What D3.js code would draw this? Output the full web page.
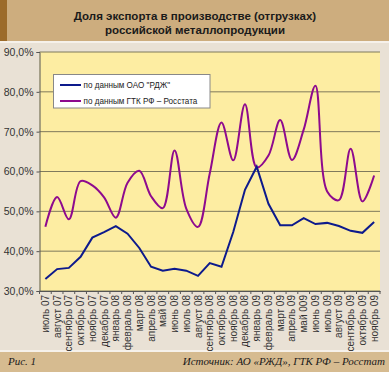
<!DOCTYPE html>
<html>
<head>
<meta charset="utf-8">
<script src="https://cdn.jsdelivr.net/npm/d3@7"></script>
<style>
  body { margin: 0; padding: 0; background: #e9e1d5; }
  svg { display: block; }
</style>
</head>
<body>
<div id="chart"></div>
<script>
// months on the x axis (the "май 009" typo is in the original)
var months = ["июль 07", "август 07", "сентябрь 07", "октябрь 07", "ноябрь 07", "декабрь 07",
  "январь 08", "февраль 08", "март 08", "апрель 08", "май 08", "июнь 08", "июль 08", "август 08",
  "сентябрь 08", "октябрь 08", "ноябрь 08", "декабрь 08", "январь 09", "февраль 09", "март 09",
  "апрель 09", "май 009", "июнь 09", "июль 09", "август 09", "сентябрь 09", "октябрь 09", "ноябрь 09"];

// share of export, %
var rzd = [33.0, 35.5, 35.8, 38.6, 43.4, 44.8, 46.3, 44.4, 40.8, 36.1, 35.1, 35.6, 35.1, 33.8,
  37.0, 36.1, 44.8, 55.4, 61.2, 51.9, 46.5, 46.5, 48.3, 46.8, 47.1, 46.3, 45.1, 44.6, 47.3];
var rosstat = [46.1, 53.6, 48.0, 57.6, 56.5, 53.5, 48.4, 57.2, 60.2, 53.8, 50.8, 65.3, 50.7, 46.1,
  59.5, 72.3, 62.8, 76.9, 61.0, 64.0, 72.9, 62.9, 70.5, 81.5, 55.0, 52.8, 65.7, 52.5, 59.0];

var yTicks = [30, 40, 50, 60, 70, 80, 90];
var seriesNames = ["по данным ОАО \"РДЖ\"", "по данным ГТК РФ – Росстата"];

var width = 389, height = 372;
var plot = { left: 39.5, right: 380, top: 52, bottom: 291 };

var svg = d3.select("#chart").append("svg")
  .attr("width", width)
  .attr("height", height);

// panel background
svg.append("rect").attr("width", width).attr("height", height).attr("fill", "#e9e1d5");

// title banner
svg.append("rect").attr("x", 0).attr("y", 0).attr("width", width).attr("height", 41).attr("fill", "#cdad7e");
svg.append("rect").attr("x", 0).attr("y", 0).attr("width", 7).attr("height", 41).attr("fill", "#9c6b2a");
svg.append("rect").attr("x", 0).attr("y", 41).attr("width", width).attr("height", 2).attr("fill", "#f6f1ea");

var title = svg.append("text")
  .attr("text-anchor", "middle")
  .attr("font-family", "'Liberation Sans', Arial, sans-serif")
  .attr("font-weight", "bold")
  .attr("font-size", "11.5px")
  .attr("fill", "#1a1a1a");
title.append("tspan").attr("x", 195).attr("y", 20).text("Доля экспорта в производстве (отгрузках)");
title.append("tspan").attr("x", 195).attr("y", 34).text("российской металлопродукции");

// footer
svg.append("rect").attr("x", 0).attr("y", 350).attr("width", width).attr("height", 2).attr("fill", "#f6f1ea");
svg.append("rect").attr("x", 0).attr("y", 352).attr("width", width).attr("height", 20).attr("fill", "#d6bb90");
svg.append("text")
  .attr("x", 8).attr("y", 365)
  .attr("font-family", "'Liberation Serif', serif")
  .attr("font-style", "italic")
  .attr("font-size", "11px")
  .attr("fill", "#1a1a1a")
  .text("Рис. 1");
svg.append("text")
  .attr("x", 385).attr("y", 365)
  .attr("text-anchor", "end")
  .attr("font-family", "'Liberation Serif', serif")
  .attr("font-style", "italic")
  .attr("font-size", "11px")
  .attr("fill", "#1a1a1a")
  .text("Источник: АО «РЖД», ГТК РФ – Росстат");

// scales
var x = d3.scaleBand().domain(months).range([plot.left, plot.right]);
var y = d3.scaleLinear().domain([30, 90]).range([plot.bottom, plot.top]);
var cx = function (d, i) { return x(months[i]) + x.bandwidth() / 2; };

// plot area
svg.append("rect")
  .attr("x", plot.left).attr("y", plot.top)
  .attr("width", plot.right - plot.left).attr("height", plot.bottom - plot.top)
  .attr("fill", "#fdeda2");

// grid
svg.append("g").selectAll("line")
  .data(yTicks)
  .enter()
  .append("line")
  .attr("x1", plot.left).attr("x2", plot.right)
  .attr("y1", d => y(d)).attr("y2", d => y(d))
  .attr("stroke", "#7f7a5c")
  .attr("stroke-width", 1);

// y axis
var leftAxis = d3.axisLeft(y)
  .tickValues(yTicks)
  .tickSize(3)
  .tickFormat(d => d.toFixed(1).replace(".", ",") + "%");
var yAxis = svg.append("g")
  .attr("transform", `translate(${plot.left}, 0)`)
  .call(leftAxis);
yAxis.select(".domain").attr("stroke", "#555");
yAxis.selectAll(".tick line").attr("stroke", "#555");
yAxis.selectAll("text")
  .attr("font-family", "'Liberation Sans', Arial, sans-serif")
  .attr("font-size", "10.5px")
  .attr("fill", "#333");

// x axis with ticks between categories
var bottomAxis = d3.axisBottom(x).tickSize(0).tickPadding(4);
var xAxis = svg.append("g")
  .attr("transform", `translate(0, ${plot.bottom})`)
  .call(bottomAxis);
xAxis.select(".domain").attr("stroke", "#555");
xAxis.selectAll("text")
  .attr("font-family", "'Liberation Sans', Arial, sans-serif")
  .attr("font-size", "10px")
  .attr("fill", "#333")
  .attr("transform", "rotate(-90)")
  .attr("text-anchor", "end")
  .attr("x", -4)
  .attr("y", 0)
  .attr("dy", "0.35em");
xAxis.selectAll(".boundary")
  .data(months.concat(["end"]))
  .enter()
  .append("line")
  .attr("class", "boundary")
  .attr("x1", (d, i) => plot.left + i * x.bandwidth())
  .attr("x2", (d, i) => plot.left + i * x.bandwidth())
  .attr("y1", 0).attr("y2", 3)
  .attr("stroke", "#555");

// lines
var lineRzd = d3.line()
  .x(cx)
  .y(d => y(d));
var lineRosstat = d3.line()
  .x(cx)
  .y(d => y(d))
  .curve(d3.curveCatmullRom.alpha(0.5));

svg.append("path")
  .datum(rosstat)
  .attr("d", lineRosstat)
  .attr("fill", "none")
  .attr("stroke", "#8e0a8e")
  .attr("stroke-width", 2);

svg.append("path")
  .datum(rzd)
  .attr("d", lineRzd)
  .attr("fill", "none")
  .attr("stroke", "#0d1a8c")
  .attr("stroke-width", 2);

// legend
var legend = svg.append("g").attr("transform", "translate(53.5, 74.5)");
legend.append("rect")
  .attr("width", 156.5).attr("height", 33.5)
  .attr("fill", "#fff")
  .attr("stroke", "#888");
var legendColors = ["#0d1a8c", "#8e0a8e"];
var items = legend.selectAll(".item")
  .data(seriesNames)
  .enter()
  .append("g")
  .attr("class", "item")
  .attr("transform", (d, i) => `translate(0, ${10.5 + i * 16})`);
items.append("line")
  .attr("x1", 6.5).attr("x2", 27.5)
  .attr("stroke", (d, i) => legendColors[i])
  .attr("stroke-width", 2);
// legend font in the original is a narrow one, so squeeze a bit horizontally
items.append("g")
  .attr("transform", "translate(30, 0) scale(0.83, 1)")
  .append("text")
  .attr("dy", "0.35em")
  .attr("font-family", "'Liberation Sans', Arial, sans-serif")
  .attr("font-size", "9.8px")
  .attr("fill", "#222")
  .text(d => d);
</script>
</body>
</html>
